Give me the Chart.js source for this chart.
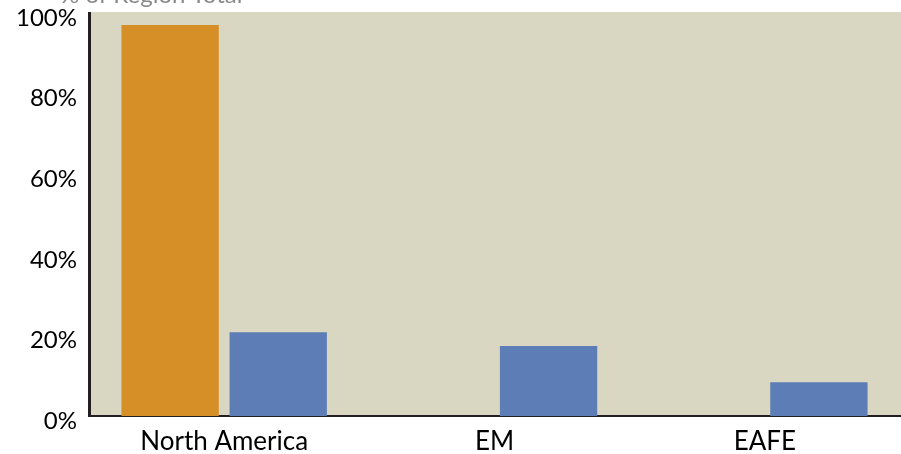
<!DOCTYPE html>
<html>
<head>
<meta charset="utf-8">
<script src="https://cdn.jsdelivr.net/npm/chart.js@4.4.0/dist/chart.umd.min.js"></script>
<style>
  html, body { margin: 0; padding: 0; background: #fff; }
  #wrap { width: 901px; height: 454px; }
</style>
</head>
<body>
<div id="wrap"><canvas id="chart" width="901" height="454"></canvas></div>
<script>
var categories = ["North America", "EM", "EAFE"];
var seriesOrange = [97, 0, 0];
var seriesBlue = [20.8, 17.4, 8.4];
var yTicks = [0, 20, 40, 60, 80, 100];
var titleText = "% of Region Total";

var fontName = "Lato, 'Open Sans', sans-serif";

// shaded plot area behind the bars
var areaBg = {
    id: 'areaBg',
    beforeDraw: function(chart) {
        var a = chart.chartArea, c = chart.ctx;
        c.save();
        c.fillStyle = '#d9d6c2';
        c.fillRect(a.left, a.top - 1, a.right - a.left + 2, a.bottom - a.top + 1);
        c.restore();
    },
    afterDraw: function(chart) {
        // title sits above the canvas, only its bottom edge shows
        var c = chart.ctx;
        c.save();
        c.fillStyle = '#8a8a8a';
        c.font = "24px " + fontName;
        c.textBaseline = 'alphabetic';
        c.fillText(titleText, 60, 3);
        c.restore();
    }
};

var ctx = document.getElementById("chart");

var myChart = new Chart(ctx, {
    type: 'bar',
    data: {
        labels: categories,
        datasets: [
            { label: "Orange", data: seriesOrange, backgroundColor: "#d68e27", borderWidth: 0 },
            { label: "Blue", data: seriesBlue, backgroundColor: "#5d7db6", borderWidth: 0 }
        ]
    },
    options: {
        responsive: false,
        animation: false,
        layout: { padding: { top: 13, right: 1, left: 0, bottom: 0 } },
        plugins: {
            legend: { display: false },
            tooltip: { enabled: false }
        },
        scales: {
            x: {
                grid: { display: false, drawTicks: false },
                border: { color: '#231f20', width: 2 },
                ticks: { color: '#000', font: { family: fontName, size: 26 }, padding: 10 },
                afterFit: function(s) { s.height = 38; }
            },
            y: {
                min: 0,
                max: 100,
                afterBuildTicks: function(s) { s.ticks = yTicks.map(function(v) { return { value: v }; }); },
                grid: { display: false, drawTicks: false },
                border: { color: '#231f20', width: 3 },
                ticks: {
                    color: '#000',
                    font: { family: fontName, size: 24 },
                    padding: 12,
                    labelOffset: 5,
                    callback: function(v) { return v + '%'; }
                },
                afterFit: function(s) {
                    s.width = 89;
                    s.paddingTop = 0;
                    s.paddingBottom = 0;
                }
            }
        }
    },
    plugins: [areaBg]
});
</script>
</body>
</html>
